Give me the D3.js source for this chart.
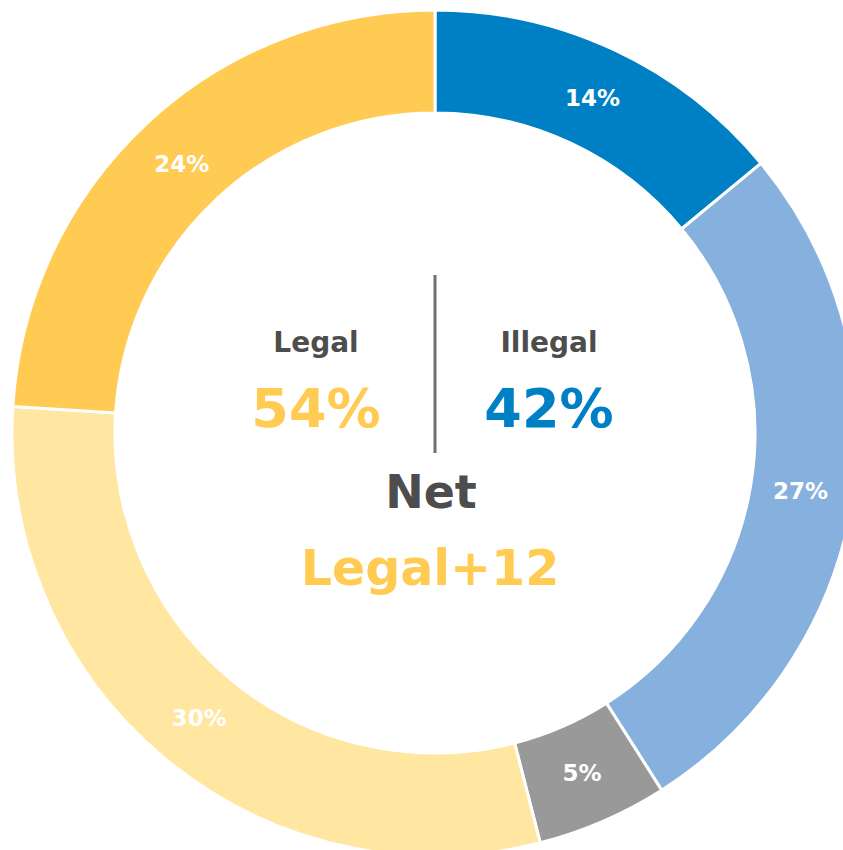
<!DOCTYPE html>
<html>
<head>
<meta charset="utf-8">
<script src="https://cdn.jsdelivr.net/npm/d3@7"></script>
<style>
  html, body { margin: 0; padding: 0; background: #fff; overflow: hidden; }
  svg { display: block; font-family: "DejaVu Sans", Verdana, sans-serif; }
</style>
</head>
<body>
<div id="chart"></div>
<script>
// segments, clockwise from 12 o'clock
const categories = ["Illegal strong", "Illegal lean", "Unsure", "Legal lean", "Legal strong"];
const values = [14, 27, 5, 30, 24];
const colors = ["#0080c4", "#86b0dd", "#999999", "#ffe6a1", "#ffcb52"];

const sideLabels = ["Legal", "Illegal"];
const sideValues = ["54%", "42%"];
const netLabel = "Net";
const netValue = "Legal+12";

const width = 843, height = 850;
const cx = 435, cy = 433;
const outerR = 423, innerR = 320;

const svg = d3.select("#chart").append("svg")
    .attr("width", width)
    .attr("height", height);

const g = svg.append("g").attr("transform", "translate(" + cx + "," + cy + ")");

const pie = d3.pie().sort(null).value(d => d.value);
const arc = d3.arc().innerRadius(innerR).outerRadius(outerR);
const labelArc = d3.arc().innerRadius(370).outerRadius(370);

const data = categories.map((c, i) => ({ name: c, value: values[i], color: colors[i] }));
const arcs = pie(data);

g.selectAll("path.slice")
    .data(arcs).enter()
    .append("path")
    .attr("class", "slice")
    .attr("d", arc)
    .attr("fill", d => d.data.color)
    .attr("stroke", "#fff")
    .attr("stroke-width", 3);

g.selectAll("text.pct")
    .data(arcs).enter()
    .append("text")
    .attr("class", "pct")
    .attr("transform", d => "translate(" + labelArc.centroid(d) + ")")
    .attr("text-anchor", "middle")
    .attr("dy", "0.36em")
    .attr("fill", "#fff")
    .attr("font-weight", "bold")
    .attr("font-size", 23)
    .text(d => d.data.value + "%");

// centre text
const centre = svg.append("g");

centre.append("line")
    .attr("x1", cx).attr("x2", cx)
    .attr("y1", 275).attr("y2", 453)
    .attr("stroke", "#6e6e6e")
    .attr("stroke-width", 3);

const sideX = [316, 549];
const sideColors = [colors[4], colors[0]];

sideLabels.forEach((lab, i) => {
    centre.append("text")
        .attr("x", sideX[i]).attr("y", 352)
        .attr("text-anchor", "middle")
        .attr("font-weight", "bold")
        .attr("font-size", 28)
        .attr("fill", "#4d4d4d")
        .text(lab);
    centre.append("text")
        .attr("x", sideX[i]).attr("y", 427)
        .attr("text-anchor", "middle")
        .attr("font-weight", "bold")
        .attr("font-size", 54)
        .attr("fill", sideColors[i])
        .text(sideValues[i]);
});

centre.append("text")
    .attr("x", 431).attr("y", 508)
    .attr("text-anchor", "middle")
    .attr("font-weight", "bold")
    .attr("font-size", 46)
    .attr("fill", "#4d4d4d")
    .text(netLabel);

centre.append("text")
    .attr("x", 430).attr("y", 585)
    .attr("text-anchor", "middle")
    .attr("font-weight", "bold")
    .attr("font-size", 49)
    .attr("fill", colors[4])
    .text(netValue);
</script>
</body>
</html>
